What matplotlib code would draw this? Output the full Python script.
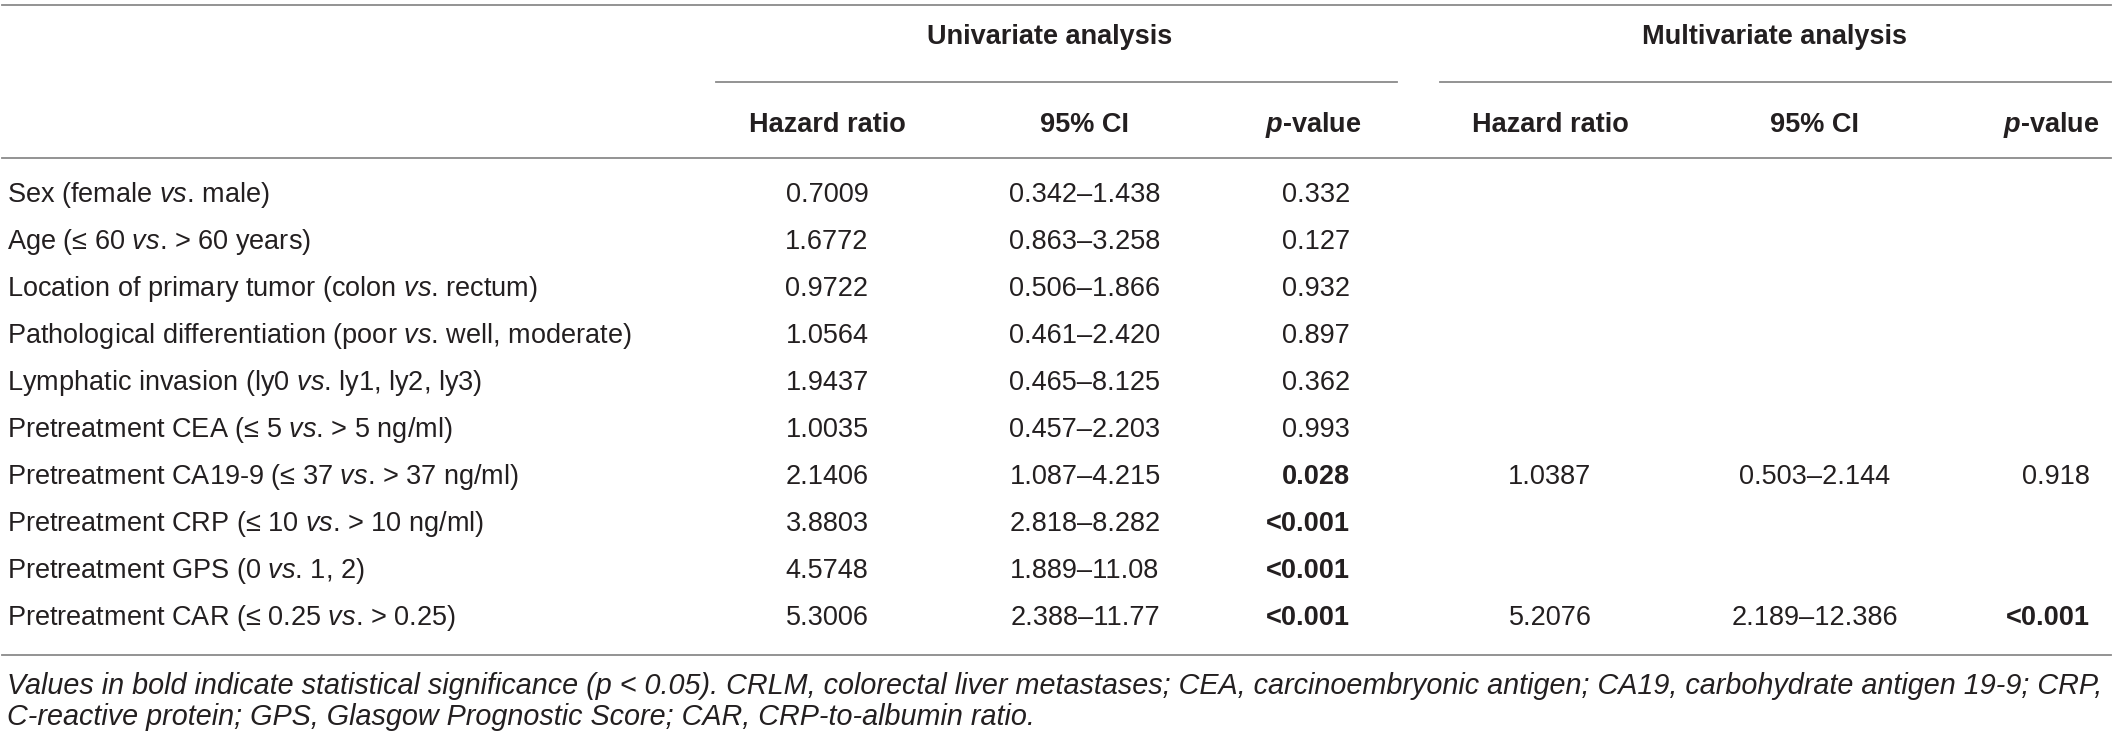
import matplotlib
matplotlib.use("Agg")
import matplotlib.pyplot as plt

plt.rcParams['font.family'] = ['Liberation Sans', 'DejaVu Sans']
plt.rcParams['mathtext.fontset'] = 'custom'
plt.rcParams['mathtext.rm'] = 'Liberation Sans'
plt.rcParams['mathtext.it'] = 'Liberation Sans:italic'
plt.rcParams['mathtext.bf'] = 'Liberation Sans:bold'
plt.rcParams['mathtext.bfit'] = 'Liberation Sans:italic:bold'

# table content
labels = [
    r"Sex (female $\mathit{vs}$. male)",
    r"Age (≤ 60 $\mathit{vs}$. > 60 years)",
    r"Location of primary tumor (colon $\mathit{vs}$. rectum)",
    r"Pathological differentiation (poor $\mathit{vs}$. well, moderate)",
    r"Lymphatic invasion (ly0 $\mathit{vs}$. ly1, ly2, ly3)",
    r"Pretreatment CEA (≤ 5 $\mathit{vs}$. > 5 ng/ml)",
    r"Pretreatment CA19-9 (≤ 37 $\mathit{vs}$. > 37 ng/ml)",
    r"Pretreatment CRP (≤ 10 $\mathit{vs}$. > 10 ng/ml)",
    r"Pretreatment GPS (0 $\mathit{vs}$. 1, 2)",
    r"Pretreatment CAR (≤ 0.25 $\mathit{vs}$. > 0.25)",
]
uni_hr = ["0.7009", "1.6772", "0.9722", "1.0564", "1.9437",
          "1.0035", "2.1406", "3.8803", "4.5748", "5.3006"]
uni_ci = ["0.342–1.438", "0.863–3.258", "0.506–1.866", "0.461–2.420", "0.465–8.125",
          "0.457–2.203", "1.087–4.215", "2.818–8.282", "1.889–11.08", "2.388–11.77"]
uni_p = ["0.332", "0.127", "0.932", "0.897", "0.362",
         "0.993", "0.028", "<0.001", "<0.001", "<0.001"]
multi_hr = ["", "", "", "", "", "", "1.0387", "", "", "5.2076"]
multi_ci = ["", "", "", "", "", "", "0.503–2.144", "", "", "2.189–12.386"]
multi_p = ["", "", "", "", "", "", "0.918", "", "", "<0.001"]
uni_sig = [False] * 6 + [True] * 4
multi_sig = [False] * 9 + [True]

footnote = [
    "Values in bold indicate statistical significance (p < 0.05). CRLM, colorectal liver metastases; "
    "CEA, carcinoembryonic antigen; CA19, carbohydrate antigen 19-9; CRP,",
    "C-reactive protein; GPS, Glasgow Prognostic Score; CAR, CRP-to-albumin ratio.",
]

W, H = 2118, 741
fig = plt.figure(figsize=(W / 100, H / 100), dpi=100)
ax = fig.add_axes([0, 0, 1, 1])
ax.set_xlim(0, W)
ax.set_ylim(H, 0)
ax.axis('off')

txt = '#231f20'
rule = '#8a8a8a'
fs = 19.5

# rules
ax.plot([2, 2111], [5, 5], color=rule, lw=1.3)
ax.plot([716, 1397], [82, 82], color=rule, lw=1.3)
ax.plot([1440, 2111], [82, 82], color=rule, lw=1.3)
ax.plot([2, 2111], [158, 158], color=rule, lw=1.3)
ax.plot([2, 2111], [655, 655], color=rule, lw=1.3)

# headers
ax.text(1050, 37, "Univariate analysis", ha='center', va='center', fontsize=fs, fontweight='bold', color=txt)
ax.text(1775, 37, "Multivariate analysis", ha='center', va='center', fontsize=fs, fontweight='bold', color=txt)
hy = 125
for xc in (827, 1550):
    ax.text(xc, hy, "Hazard ratio", ha='center', va='center', fontsize=fs, fontweight='bold', color=txt)
for xc in (1085, 1815):
    ax.text(xc, hy, "95% CI", ha='center', va='center', fontsize=fs, fontweight='bold', color=txt)
for xr in (1362, 2100):
    ax.text(xr, hy, r"$\mathbfit{p}$-value", ha='right', va='center', fontsize=fs, fontweight='bold', color=txt)

# rows
for i, lab in enumerate(labels):
    y = 195 + 47 * i
    ax.text(7, y, lab, ha='left', va='center', fontsize=fs, color=txt)
    ax.text(827, y, uni_hr[i], ha='center', va='center', fontsize=fs, color=txt)
    ax.text(1085, y, uni_ci[i], ha='center', va='center', fontsize=fs, color=txt)
    ax.text(1350, y, uni_p[i], ha='right', va='center', fontsize=fs, color=txt,
            fontweight='bold' if uni_sig[i] else 'normal')
    if multi_hr[i]:
        ax.text(1550, y, multi_hr[i], ha='center', va='center', fontsize=fs, color=txt)
        ax.text(1815, y, multi_ci[i], ha='center', va='center', fontsize=fs, color=txt)
        ax.text(2090, y, multi_p[i], ha='right', va='center', fontsize=fs, color=txt,
                fontweight='bold' if multi_sig[i] else 'normal')

# footnote
for j, line in enumerate(footnote):
    ax.text(7, 686 + 31 * j, line, ha='left', va='center', fontsize=20.7, style='italic', color=txt)

fig.savefig("out.png", dpi=100)
